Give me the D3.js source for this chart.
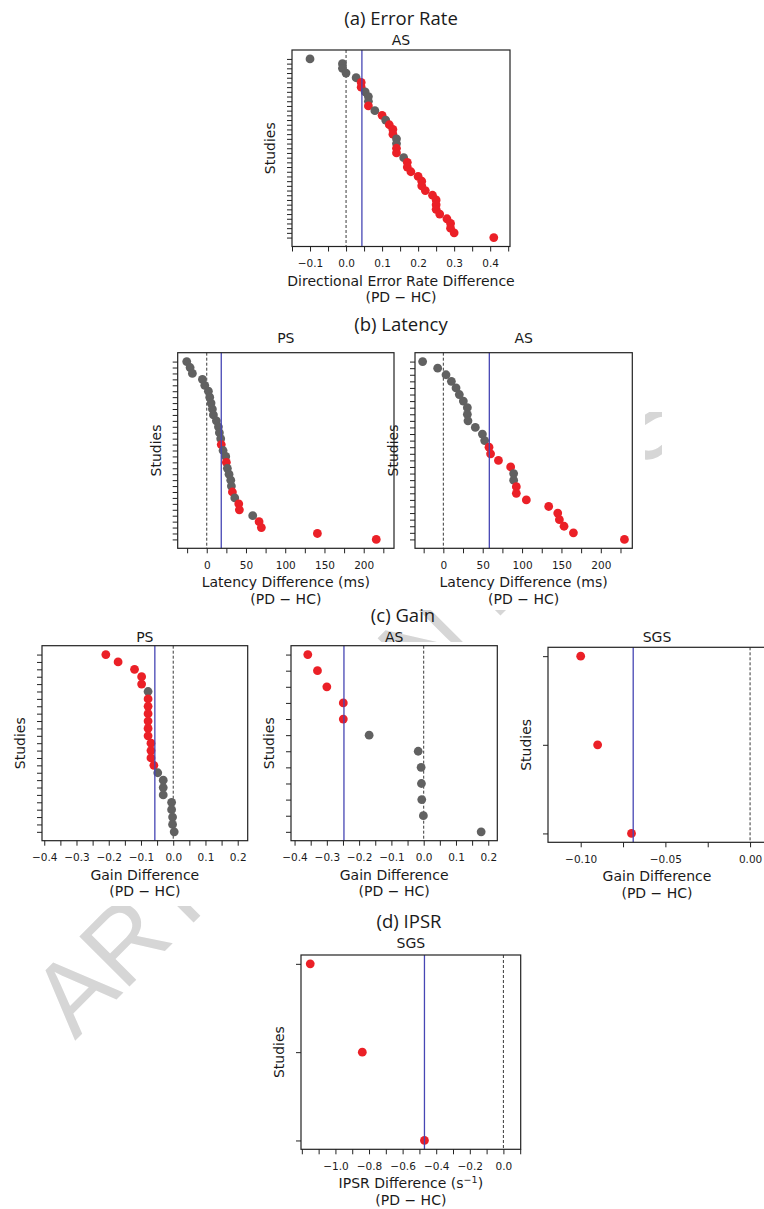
<!DOCTYPE html>
<html>
<head>
<meta charset="utf-8">
<script src="https://cdn.jsdelivr.net/npm/d3@7"></script>
<style>
  body { margin: 0; background: #fff; }
  svg text { font-family: "DejaVu Sans", sans-serif; fill: #1a1a1a; }
  .title { font-family: "Open Sans", sans-serif; font-size: 18.5px; }
</style>
</head>
<body>
<div id="plot"></div>
<script>
// ---- data (PD - HC differences per study, sorted) ----
// sig: 1 = red (significant), 0 = grey
var errAS = [-0.10, -0.01, -0.01, 0.00, 0.028, 0.042, 0.042, 0.053, 0.062, 0.062, 0.062, 0.08, 0.10,
  0.11, 0.12, 0.13, 0.13, 0.14, 0.14, 0.14, 0.14, 0.16, 0.17, 0.17, 0.18, 0.20, 0.21, 0.21, 0.22,
  0.24, 0.25, 0.25, 0.25, 0.26, 0.28, 0.29, 0.29, 0.30, 0.41];
var errASSig = [0,0,0,0,0,1,1,0,0,0,1,0,1,0,1,1,1,0,0,1,1,0,1,1,1,1,1,1,1,1,1,1,1,1,1,1,1,1,1];

var latPS = [-25.5, -21.2, -18.3, -5.5, -2.5, 2.1, 3.8, 5.5, 7.2, 8.5, 12.3, 14.9, 16.1, 17.8, 18.5,
  20.8, 24.2, 25.0, 26.3, 28.4, 30.6, 31.4, 32.7, 35.7, 40.8, 41.6, 58.6, 66.7, 69.6, 141, 216];
var latPSSig = [0,0,0,0,0,0,0,0,0,0,0,0,0,0,1,0,0,1,0,0,0,0,1,0,1,1,0,1,1,1,1];

var latAS = [-26.3, -7.2, 3.4, 10.2, 16.1, 20.3, 25.4, 30.5, 30.5, 31.3, 40.6, 49.6, 52.5, 58, 60, 70,
  85.5, 89.3, 89.3, 92.7, 92.7, 105.4, 133.8, 145.3, 147.4, 153.3, 165.2, 230];
var latASSig = [0,0,0,0,0,0,0,0,0,0,0,0,0,1,1,1,1,0,0,1,1,1,1,1,1,1,1,1];

var gainPS = [-0.209, -0.171, -0.12, -0.098, -0.098, -0.078, -0.078, -0.078, -0.078, -0.078, -0.078,
  -0.078, -0.069, -0.069, -0.069, -0.06, -0.048, -0.031, -0.031, -0.031, -0.005, -0.005, -0.002,
  -0.002, 0.003];
var gainPSSig = [1,1,1,1,1,0,1,1,1,1,1,1,1,1,1,1,0,0,0,0,0,0,0,0,0];

var gainAS = [-0.359, -0.329, -0.30, -0.249, -0.249, -0.169, -0.017, -0.008, -0.007, -0.006, -0.001, 0.178];
var gainASSig = [1,1,1,1,1,0,0,0,0,0,0,0];

var gainSGS = [-0.10, -0.09, -0.07];
var gainSGSSig = [1,1,1];

var ipsrSGS = [-1.15, -0.84, -0.47];
var ipsrSGSSig = [1,1,1];

// pooled mean differences (blue lines)
var means = { errAS: 0.044, latPS: 18.5, latAS: 58.4, gainPS: -0.057, gainAS: -0.247, gainSGS: -0.069, ipsrSGS: -0.47 };

// tick positions and labelled ticks
var errTicks = [-0.15, -0.1, -0.05, 0, 0.05, 0.1, 0.15, 0.2, 0.25, 0.3, 0.35, 0.4, 0.45];
var errLabels = [-0.1, 0, 0.1, 0.2, 0.3, 0.4];
var latTicks = [-25, 0, 25, 50, 75, 100, 125, 150, 175, 200, 225];
var latLabels = [0, 50, 100, 150, 200];
var gainTicks = [-0.4, -0.35, -0.3, -0.25, -0.2, -0.15, -0.1, -0.05, 0, 0.05, 0.1, 0.15, 0.2];
var gainLabels = [-0.4, -0.3, -0.2, -0.1, 0, 0.1, 0.2];
var sgsTicks = [-0.1, -0.075, -0.05, -0.025, 0];
var sgsLabels = [-0.1, -0.05, 0];
var ipsrTicks = [-1.2, -1.1, -1.0, -0.9, -0.8, -0.7, -0.6, -0.5, -0.4, -0.3, -0.2, -0.1, 0, 0.1];
var ipsrLabels = [-1.0, -0.8, -0.6, -0.4, -0.2, 0];

var red = "#eb2027", grey = "#616161", meanColor = "#4646b4";

var svg = d3.select("#plot").append("svg")
  .attr("width", 764)
  .attr("height", 1209);

svg.append("rect").attr("width", 764).attr("height", 1209).attr("fill", "#fff");

// watermark behind the sub-figures
svg.append("text")
  .attr("transform", "translate(75,1041) rotate(-45)")
  .style("font-family", "'Liberation Sans', Arial, sans-serif")
  .style("font-size", "103px")
  .style("fill", "#d6d6d6")
  .text("ARTICLE IN PRESS");

// white backgrounds of the pasted sub-figures
[[255, 30, 270, 275], [135, 337, 510, 273], [645, 300, 120, 112], [662, 300, 102, 342],
  [0, 642, 764, 264], [262, 934, 268, 275]]
  .forEach(function (c) {
    svg.append("rect").attr("x", c[0]).attr("y", c[1]).attr("width", c[2]).attr("height", c[3]).attr("fill", "#fff");
  });

function drawPanel(p) {
  var g = svg.append("g");
  var n = p.values.length;
  var x = d3.scaleLinear().domain(p.domain).range([p.left, p.right]);
  var y = d3.scaleLinear().domain([-0.05 * (n - 1), 1.05 * (n - 1)]).range([p.top, p.bottom]);

  // zero line
  g.append("line")
    .attr("x1", x(0)).attr("x2", x(0))
    .attr("y1", p.top).attr("y2", p.bottom)
    .attr("stroke", "#222").attr("stroke-width", 0.9).attr("stroke-dasharray", "3,2");

  g.selectAll("circle")
    .data(p.values)
    .enter()
    .append("circle")
    .attr("cx", d => x(d))
    .attr("cy", (d, i) => y(i))
    .attr("r", 4.4)
    .attr("fill", (d, i) => p.sig[i] ? red : grey);

  // pooled mean
  g.append("line")
    .attr("x1", x(p.mean)).attr("x2", x(p.mean))
    .attr("y1", p.top).attr("y2", p.bottom)
    .attr("stroke", meanColor).attr("stroke-width", 1.3);

  g.append("rect")
    .attr("x", p.left).attr("y", p.top)
    .attr("width", p.right - p.left).attr("height", p.bottom - p.top)
    .attr("fill", "none").attr("stroke", "#222").attr("stroke-width", 1.2);

  var fmt = d3.format(p.fmt);
  var bottomAxis = d3.axisBottom(x)
    .tickValues(p.ticks)
    .tickSize(5)
    .tickPadding(8)
    .tickFormat(d => p.labels.some(v => Math.abs(v - d) < 1e-9) ? fmt(d) : "");

  g.append("g")
    .attr("transform", `translate(0, ${p.bottom})`)
    .call(bottomAxis)
    .attr("font-family", "DejaVu Sans")
    .attr("font-size", 10.5)
    .attr("color", "#222")
    .call(a => a.select(".domain").remove());

  var leftAxis = d3.axisLeft(y)
    .tickValues(d3.range(n))
    .tickSize(5)
    .tickFormat("");

  g.append("g")
    .attr("transform", `translate(${p.left}, 0)`)
    .call(leftAxis)
    .attr("color", "#222")
    .call(a => a.select(".domain").remove());

  var cx = (p.left + p.right) / 2;

  g.append("text")
    .attr("x", cx).attr("y", p.top - p.subGap)
    .attr("text-anchor", "middle")
    .style("font-size", "14px")
    .text(p.sub);

  var xl = g.append("text")
    .attr("x", cx).attr("y", p.bottom + 39)
    .attr("text-anchor", "middle")
    .style("font-size", "14px");
  xl.append("tspan").text(p.xlabel);
  if (p.sup) {
    xl.append("tspan").attr("dy", -5).style("font-size", "9.5px").text(p.sup);
    xl.append("tspan").attr("dy", 5).text(")");
  }

  g.append("text")
    .attr("x", cx).attr("y", p.bottom + 55.3)
    .attr("text-anchor", "middle")
    .style("font-size", "14px")
    .text("(PD \u2212 HC)");

  g.append("text")
    .attr("transform", `translate(${p.left - 17}, ${(p.top + p.bottom) / 2}) rotate(-90)`)
    .attr("text-anchor", "middle")
    .style("font-size", "14px")
    .text("Studies");
}

// panel titles
[["(a) Error Rate", 401, 25], ["(b) Latency", 401, 331], ["(c) Gain", 403, 621.5], ["(d) IPSR", 409, 928]]
  .forEach(function (t) {
    svg.append("text")
      .attr("class", "title")
      .attr("x", t[1]).attr("y", t[2])
      .attr("text-anchor", "middle")
      .text(t[0]);
  });

drawPanel({ values: errAS, sig: errASSig, mean: means.errAS, domain: [-0.15, 0.455],
  left: 292, right: 510, top: 50, bottom: 246.5, subGap: 5,
  ticks: errTicks, labels: errLabels, fmt: ".1f", sub: "AS",
  xlabel: "Directional Error Rate Difference" });

drawPanel({ values: latPS, sig: latPSSig, mean: means.latPS, domain: [-37, 238.6],
  left: 177.7, right: 394, top: 352.7, bottom: 548.3, subGap: 9.5,
  ticks: latTicks, labels: latLabels, fmt: "d", sub: "PS",
  xlabel: "Latency Difference (ms)" });

drawPanel({ values: latAS, sig: latASSig, mean: means.latAS, domain: [-36, 240],
  left: 415, right: 632.3, top: 352.7, bottom: 548.3, subGap: 9.5,
  ticks: latTicks, labels: latLabels, fmt: "d", sub: "AS",
  xlabel: "Latency Difference (ms)" });

drawPanel({ values: gainPS, sig: gainPSSig, mean: means.gainPS, domain: [-0.407, 0.231],
  left: 42, right: 247.7, top: 645.7, bottom: 840.7, subGap: 4,
  ticks: gainTicks, labels: gainLabels, fmt: ".1f", sub: "PS",
  xlabel: "Gain Difference" });

drawPanel({ values: gainAS, sig: gainASSig, mean: means.gainAS, domain: [-0.411, 0.228],
  left: 291, right: 497.3, top: 645.7, bottom: 840.7, subGap: 4,
  ticks: gainTicks, labels: gainLabels, fmt: ".1f", sub: "AS",
  xlabel: "Gain Difference" });

drawPanel({ values: gainSGS, sig: gainSGSSig, mean: means.gainSGS, domain: [-0.1193, 0.0094],
  left: 548, right: 766, top: 647.3, bottom: 842.3, subGap: 5.6,
  ticks: sgsTicks, labels: sgsLabels, fmt: ".2f", sub: "SGS",
  xlabel: "Gain Difference" });

drawPanel({ values: ipsrSGS, sig: ipsrSGSSig, mean: means.ipsrSGS, domain: [-1.205, 0.103],
  left: 301, right: 520.7, top: 955, bottom: 1149.3, subGap: 6.7,
  ticks: ipsrTicks, labels: ipsrLabels, fmt: ".1f", sub: "SGS",
  xlabel: "IPSR Difference (s", sup: "\u22121" });
</script>
</body>
</html>
